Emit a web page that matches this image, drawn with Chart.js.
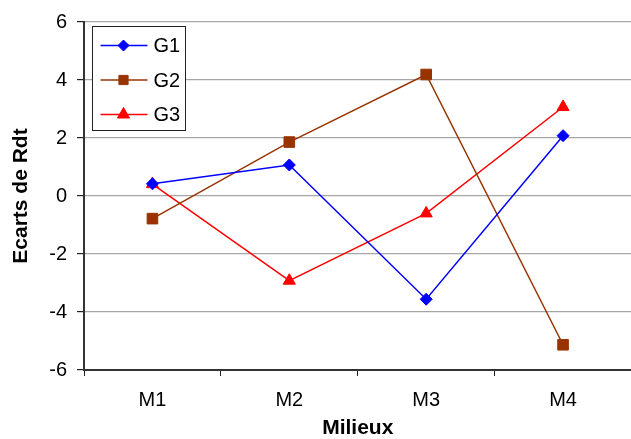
<!DOCTYPE html>
<html>
<head>
<meta charset="utf-8">
<script src="https://cdn.jsdelivr.net/npm/chart.js@4/dist/chart.umd.min.js"></script>
<style>
  html, body { margin: 0; padding: 0; background: #fff; overflow: hidden; }
  #wrap { width: 640px; height: 439px; }
</style>
</head>
<body>
<div id="wrap"><canvas id="c" width="640" height="439"></canvas></div>
<script>
// Environments (x categories)
const milieux = ['M1', 'M2', 'M3', 'M4'];
// Yield deviations per genotype
const g1 = [0.42, 1.07, -3.56, 2.08];
const g2 = [-0.78, 1.86, 4.19, -5.13];
const g3 = [0.41, -2.92, -0.6, 3.07];
// Y axis bounds and step
const yMin = -6, yMax = 6, yStep = 2;

const series = [
  { label: 'G1', data: g1, color: '#0000FF', style: 'rectRot', radius: 6, legendRadius: 5.5 },
  { label: 'G2', data: g2, color: '#993300', style: 'rect', radius: 7.5, legendRadius: 6.5 },
  { label: 'G3', data: g3, color: '#FF0000', style: 'triangle', radius: 7, legendRadius: 7 }
];

// Boxed legend drawn inside the plot area, top-left
const boxLegend = {
  id: 'boxLegend',
  afterDatasetsDraw(chart) {
    const ctx = chart.ctx;
    const area = chart.chartArea;
    const x0 = area.left + 8.5, y0 = area.top + 4.5, w = 93, h = 104;
    ctx.save();
    ctx.fillStyle = '#fff';
    ctx.fillRect(x0, y0, w, h);
    ctx.strokeStyle = '#222';
    ctx.lineWidth = 1;
    ctx.strokeRect(x0, y0, w, h);
    ctx.font = '20px "Liberation Sans", Arial, sans-serif';
    ctx.textBaseline = 'middle';
    ctx.textAlign = 'left';
    chart.data.datasets.forEach((ds, i) => {
      const cy = y0 + 19 + i * 34.5;
      ctx.strokeStyle = ds.borderColor;
      ctx.lineWidth = 1.5;
      ctx.beginPath();
      ctx.moveTo(x0 + 8, cy);
      ctx.lineTo(x0 + 55, cy);
      ctx.stroke();
      ctx.fillStyle = ds.pointBackgroundColor;
      ctx.strokeStyle = ds.pointBorderColor;
      ctx.lineWidth = 1;
      Chart.helpers.drawPoint(ctx, {
        pointStyle: ds.pointStyle,
        radius: ds.legendRadius,
        rotation: 0,
        borderWidth: 1
      }, x0 + 31, cy);
      ctx.fillStyle = '#000';
      ctx.fillText(ds.label, x0 + 61, cy + 1);
    });
    ctx.restore();
  }
};

new Chart(document.getElementById('c'), {
  type: 'line',
  data: {
    labels: milieux,
    datasets: series.map(s => ({
      label: s.label,
      data: s.data,
      borderColor: s.color,
      backgroundColor: s.color,
      pointBackgroundColor: s.color,
      pointBorderColor: s.color,
      pointStyle: s.style,
      pointRadius: s.radius,
      pointBorderWidth: 1,
      legendRadius: s.legendRadius,
      borderWidth: 1.5,
      tension: 0,
      fill: false
    }))
  },
  options: {
    responsive: false,
    animation: false,
    layout: { padding: { top: 22, right: 4, left: 0, bottom: 0 } },
    plugins: {
      legend: { display: false },
      tooltip: { enabled: false }
    },
    scales: {
      x: {
        type: 'category',
        offset: true,
        afterFit(scale) { scale.height = 69; },
        grid: {
          offset: true,
          drawOnChartArea: false,
          drawTicks: true,
          tickLength: 6,
          color: '#222',
          lineWidth: 1
        },
        border: { display: true, color: '#333', width: 2 },
        ticks: {
          color: '#000',
          padding: 12,
          font: { family: '"Liberation Sans", Arial, sans-serif', size: 20 }
        },
        title: {
          display: true,
          text: 'Milieux',
          color: '#000',
          font: { family: '"Liberation Sans", Arial, sans-serif', size: 21, weight: 'bold', lineHeight: 1 },
          padding: { top: 0, bottom: 0 }
        }
      },
      y: {
        min: yMin,
        max: yMax,
        afterFit(scale) { scale.width = 84; },
        grid: {
          color: '#a6a6a6',
          lineWidth: 1.2,
          drawTicks: true,
          tickLength: 7,
          tickColor: '#222'
        },
        border: { display: true, color: '#333', width: 2 },
        ticks: {
          stepSize: yStep,
          color: '#000',
          padding: 10,
          font: { family: '"Liberation Sans", Arial, sans-serif', size: 20 }
        },
        title: {
          display: true,
          text: 'Ecarts de Rdt',
          color: '#000',
          font: { family: '"Liberation Sans", Arial, sans-serif', size: 21, weight: 'bold', lineHeight: 1 },
          padding: { top: 11, bottom: 0 }
        }
      }
    }
  },
  plugins: [boxLegend]
});
</script>
</body>
</html>
